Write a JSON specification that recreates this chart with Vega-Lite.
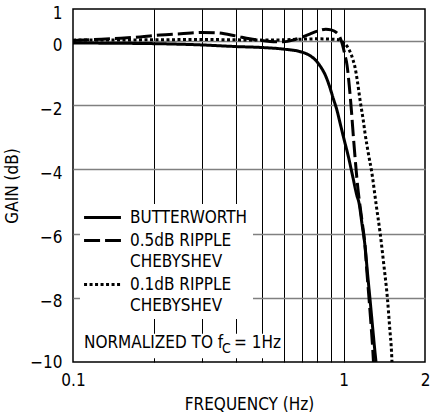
{
  "$schema": "https://vega.github.io/schema/vega-lite/v6.json",
  "width": 352,
  "height": 353,
  "autosize": {"type": "none"},
  "padding": {"left": 73, "top": 9, "right": 5, "bottom": 54},
  "background": "white",
  "config": {
    "font": "DejaVu Sans Condensed, Roboto, sans-serif",
    "view": {"stroke": "black", "strokeWidth": 1.5},
    "axis": {
      "labelFont": "DejaVu Sans Condensed, Roboto, sans-serif",
      "titleFont": "DejaVu Sans Condensed, Roboto, sans-serif",
      "labelColor": "black",
      "titleColor": "black",
      "titleFontWeight": "normal",
      "ticks": false,
      "domain": false,
      "labelFontSize": 17,
      "titleFontSize": 17
    }
  },
  "datasets": {
    "curves": [
      {"filter": "BUTTERWORTH", "freq": 0.1, "gain": -0.06},
      {"filter": "BUTTERWORTH", "freq": 0.2, "gain": -0.08},
      {"filter": "BUTTERWORTH", "freq": 0.3, "gain": -0.12},
      {"filter": "BUTTERWORTH", "freq": 0.4, "gain": -0.17},
      {"filter": "BUTTERWORTH", "freq": 0.5, "gain": -0.2},
      {"filter": "BUTTERWORTH", "freq": 0.6, "gain": -0.25},
      {"filter": "BUTTERWORTH", "freq": 0.7, "gain": -0.34},
      {"filter": "BUTTERWORTH", "freq": 0.75, "gain": -0.45},
      {"filter": "BUTTERWORTH", "freq": 0.785, "gain": -0.58},
      {"filter": "BUTTERWORTH", "freq": 0.82, "gain": -0.78},
      {"filter": "BUTTERWORTH", "freq": 0.854, "gain": -1.04},
      {"filter": "BUTTERWORTH", "freq": 0.885, "gain": -1.38},
      {"filter": "BUTTERWORTH", "freq": 0.917, "gain": -1.8},
      {"filter": "BUTTERWORTH", "freq": 0.945, "gain": -2.15},
      {"filter": "BUTTERWORTH", "freq": 0.97, "gain": -2.54},
      {"filter": "BUTTERWORTH", "freq": 1.0, "gain": -3.0},
      {"filter": "BUTTERWORTH", "freq": 1.042, "gain": -3.6},
      {"filter": "BUTTERWORTH", "freq": 1.08, "gain": -4.2},
      {"filter": "BUTTERWORTH", "freq": 1.119, "gain": -4.8},
      {"filter": "BUTTERWORTH", "freq": 1.141, "gain": -5.05},
      {"filter": "BUTTERWORTH", "freq": 1.17, "gain": -5.7},
      {"filter": "BUTTERWORTH", "freq": 1.201, "gain": -6.4},
      {"filter": "BUTTERWORTH", "freq": 1.225, "gain": -7.2},
      {"filter": "BUTTERWORTH", "freq": 1.253, "gain": -8.06},
      {"filter": "BUTTERWORTH", "freq": 1.28, "gain": -8.9},
      {"filter": "BUTTERWORTH", "freq": 1.308, "gain": -9.73},
      {"filter": "BUTTERWORTH", "freq": 1.318, "gain": -10},
      {"filter": "0.5dB", "freq": 0.1, "gain": 0.02},
      {"filter": "0.5dB", "freq": 0.12, "gain": 0.05},
      {"filter": "0.5dB", "freq": 0.15, "gain": 0.09},
      {"filter": "0.5dB", "freq": 0.177, "gain": 0.13},
      {"filter": "0.5dB", "freq": 0.21, "gain": 0.19},
      {"filter": "0.5dB", "freq": 0.25, "gain": 0.23},
      {"filter": "0.5dB", "freq": 0.3, "gain": 0.27},
      {"filter": "0.5dB", "freq": 0.34, "gain": 0.26},
      {"filter": "0.5dB", "freq": 0.4, "gain": 0.16},
      {"filter": "0.5dB", "freq": 0.45, "gain": 0.07},
      {"filter": "0.5dB", "freq": 0.5, "gain": 0.02},
      {"filter": "0.5dB", "freq": 0.55, "gain": -0.02},
      {"filter": "0.5dB", "freq": 0.6, "gain": -0.02},
      {"filter": "0.5dB", "freq": 0.65, "gain": 0.03},
      {"filter": "0.5dB", "freq": 0.7, "gain": 0.12},
      {"filter": "0.5dB", "freq": 0.75, "gain": 0.22},
      {"filter": "0.5dB", "freq": 0.8, "gain": 0.31},
      {"filter": "0.5dB", "freq": 0.86, "gain": 0.37},
      {"filter": "0.5dB", "freq": 0.9, "gain": 0.35},
      {"filter": "0.5dB", "freq": 0.94, "gain": 0.27},
      {"filter": "0.5dB", "freq": 0.97, "gain": 0.12},
      {"filter": "0.5dB", "freq": 0.99, "gain": -0.1},
      {"filter": "0.5dB", "freq": 1.01, "gain": -0.4},
      {"filter": "0.5dB", "freq": 1.03, "gain": -0.75},
      {"filter": "0.5dB", "freq": 1.05, "gain": -1.4},
      {"filter": "0.5dB", "freq": 1.07, "gain": -2.2},
      {"filter": "0.5dB", "freq": 1.09, "gain": -3.1},
      {"filter": "0.5dB", "freq": 1.11, "gain": -3.9},
      {"filter": "0.5dB", "freq": 1.13, "gain": -4.6},
      {"filter": "0.5dB", "freq": 1.141, "gain": -4.9},
      {"filter": "0.5dB", "freq": 1.17, "gain": -5.6},
      {"filter": "0.5dB", "freq": 1.201, "gain": -6.4},
      {"filter": "0.5dB", "freq": 1.22, "gain": -7.2},
      {"filter": "0.5dB", "freq": 1.243, "gain": -8.06},
      {"filter": "0.5dB", "freq": 1.265, "gain": -8.9},
      {"filter": "0.5dB", "freq": 1.282, "gain": -9.6},
      {"filter": "0.5dB", "freq": 1.29, "gain": -10},
      {"filter": "0.1dB", "freq": 0.1, "gain": 0.03},
      {"filter": "0.1dB", "freq": 0.2, "gain": 0.04},
      {"filter": "0.1dB", "freq": 0.3, "gain": 0.05},
      {"filter": "0.1dB", "freq": 0.4, "gain": 0.04},
      {"filter": "0.1dB", "freq": 0.5, "gain": 0.03},
      {"filter": "0.1dB", "freq": 0.6, "gain": 0.04},
      {"filter": "0.1dB", "freq": 0.7, "gain": 0.06},
      {"filter": "0.1dB", "freq": 0.8, "gain": 0.07},
      {"filter": "0.1dB", "freq": 0.9, "gain": 0.06},
      {"filter": "0.1dB", "freq": 0.96, "gain": 0.04},
      {"filter": "0.1dB", "freq": 0.99, "gain": -0.02},
      {"filter": "0.1dB", "freq": 1.01, "gain": -0.08},
      {"filter": "0.1dB", "freq": 1.03, "gain": -0.16},
      {"filter": "0.1dB", "freq": 1.05, "gain": -0.28},
      {"filter": "0.1dB", "freq": 1.068, "gain": -0.42},
      {"filter": "0.1dB", "freq": 1.085, "gain": -0.6},
      {"filter": "0.1dB", "freq": 1.1, "gain": -0.78},
      {"filter": "0.1dB", "freq": 1.125, "gain": -1.25},
      {"filter": "0.1dB", "freq": 1.15, "gain": -1.82},
      {"filter": "0.1dB", "freq": 1.184, "gain": -2.5},
      {"filter": "0.1dB", "freq": 1.2, "gain": -2.86},
      {"filter": "0.1dB", "freq": 1.235, "gain": -3.5},
      {"filter": "0.1dB", "freq": 1.272, "gain": -4.1},
      {"filter": "0.1dB", "freq": 1.32, "gain": -5.1},
      {"filter": "0.1dB", "freq": 1.365, "gain": -5.98},
      {"filter": "0.1dB", "freq": 1.41, "gain": -7.0},
      {"filter": "0.1dB", "freq": 1.452, "gain": -8.0},
      {"filter": "0.1dB", "freq": 1.48, "gain": -8.9},
      {"filter": "0.1dB", "freq": 1.507, "gain": -9.83},
      {"filter": "0.1dB", "freq": 1.51, "gain": -10}
    ]
  },
  "layer": [
    {
      "data": {"name": "curves"},
      "mark": {"type": "line", "strokeWidth": 3, "color": "black", "clip": true, "interpolate": "monotone"},
      "encoding": {
        "x": {
          "field": "freq", "type": "quantitative",
          "scale": {"type": "log", "domain": [0.1, 2], "nice": false},
          "axis": {
            "values": [0.1, 0.2, 0.3, 0.4, 0.5, 0.6, 0.7, 0.8, 0.9, 1, 2],
            "labelExpr": "datum.value == 0.1 ? '0.1' : datum.value == 1 ? '1' : datum.value == 2 ? '2' : ''",
            "grid": true,
            "gridColor": "black",
            "gridWidth": 1,
            "gridOpacity": {"condition": {"test": "datum.value == 0.1 || datum.value == 2", "value": 0}, "value": 1},
            "labelOverlap": false,
            "labelFlush": false,
            "labelPadding": 10,
            "title": "FREQUENCY (Hz)",
            "titlePadding": 8
          }
        },
        "y": {
          "field": "gain", "type": "quantitative",
          "scale": {"domain": [-10, 1], "nice": false},
          "axis": {
            "values": [1, 0, -2, -4, -6, -8, -10],
            "grid": true,
            "gridColor": "#808080",
            "gridWidth": 1.5,
            "gridOpacity": {"condition": {"test": "datum.value == 1 || datum.value == -10", "value": 0}, "value": 1},
            "labelPadding": 11,
            "labelOffset": {"condition": {"test": "datum.value == -10", "value": 0}, "value": 4},
            "labelOverlap": false,
            "labelFlush": false,
            "title": "GAIN (dB)",
            "titlePadding": 8
          }
        },
        "strokeDash": {
          "field": "filter", "type": "nominal",
          "scale": {"domain": ["BUTTERWORTH", "0.5dB", "0.1dB"], "range": [[1, 0], [16, 5], [3, 2.5]]},
          "legend": {
            "orient": "none",
            "legendX": 7,
            "legendY": 195,
            "title": null,
            "fillColor": "white",
            "padding": 5,
            "symbolType": "M-4,0L4,0",
            "symbolSize": 85,
            "symbolStrokeWidth": 3,
            "symbolStrokeColor": "black",
            "symbolFillColor": "transparent",
            "symbolOffset": 9,
            "labelFont": "DejaVu Sans Condensed, Roboto, sans-serif",
            "labelFontSize": 17,
            "labelColor": "black",
            "labelBaseline": "top",
            "labelOffset": 19,
            "labelLimit": 300,
            "rowPadding": 5,
            "labelExpr": "datum.label == 'BUTTERWORTH' ? 'BUTTERWORTH       ' : datum.label == '0.5dB' ? ['0.5dB RIPPLE', 'CHEBYSHEV'] : ['0.1dB RIPPLE', 'CHEBYSHEV']",
            "encode": {"labels": {"update": {"dy": {"value": -8}, "lineHeight": {"value": 21}}}}
          }
        }
      }
    },
    {
      "data": {"values": [{}]},
      "mark": {"type": "rect", "fill": "white"},
      "encoding": {
        "x": {"datum": 0.1015, "type": "quantitative"},
        "x2": {"datum": 0.595},
        "y": {"datum": -9.12, "type": "quantitative"},
        "y2": {"datum": -9.88}
      }
    },
    {
      "data": {"values": [{}]},
      "mark": {"type": "text", "font": "DejaVu Sans Condensed, Roboto, sans-serif", "fontSize": 17, "align": "left", "baseline": "middle", "color": "black", "text": "NORMALIZED TO f"},
      "encoding": {
        "x": {"datum": 0.1098, "type": "quantitative"},
        "y": {"datum": -9.4, "type": "quantitative"}
      }
    },
    {
      "data": {"values": [{}]},
      "mark": {"type": "text", "font": "DejaVu Sans Condensed, Roboto, sans-serif", "fontSize": 14, "align": "left", "baseline": "middle", "color": "black", "text": "C"},
      "encoding": {
        "x": {"datum": 0.3554, "type": "quantitative"},
        "y": {"datum": -9.6, "type": "quantitative"}
      }
    },
    {
      "data": {"values": [{}]},
      "mark": {"type": "text", "font": "DejaVu Sans Condensed, Roboto, sans-serif", "fontSize": 17, "align": "left", "baseline": "middle", "color": "black", "text": "= 1Hz"},
      "encoding": {
        "x": {"datum": 0.3937, "type": "quantitative"},
        "y": {"datum": -9.4, "type": "quantitative"}
      }
    }
  ]
}
